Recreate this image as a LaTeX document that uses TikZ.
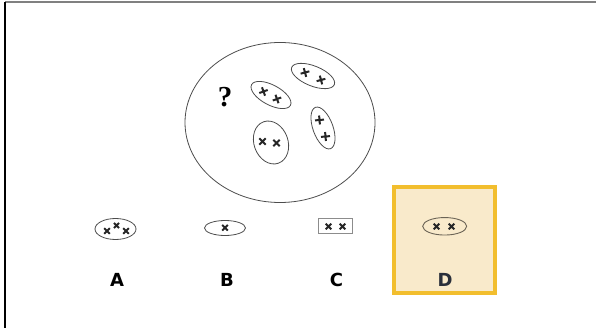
\documentclass[tikz,border=0pt]{standalone}
\usepackage{fontspec}
\newfontfamily\labfont{DejaVu Sans}
\newfontfamily\qfont{Liberation Serif}
\usetikzlibrary{shapes.geometric}
\definecolor{goldline}{HTML}{F2BE2E}
\definecolor{goldfill}{HTML}{F9EACB}
\definecolor{dlabel}{HTML}{2A2F3A}
\definecolor{dring}{HTML}{6B6355}
\tikzset{
  ring/.style={draw=black!70, line width=0.8pt, ellipse, inner sep=0pt},
  bigmark/.style={line width=2pt, black!85},
  smallmark/.style={line width=1.9pt, black!85},
  optlabel/.style={font=\labfont\bfseries\fontsize{18}{18}\selectfont, inner sep=0pt},
}
\newcommand\crossmk[5]{%
  \begin{scope}[shift={(#1,#2)},rotate=#3]
    \draw[#5] (-#4,0) -- (#4,0) (0,-#4) -- (0,#4);
  \end{scope}}
\begin{document}
\begin{tikzpicture}[x=1pt,y=-1pt]
\useasboundingbox (0,0) rectangle (596,328);
% frame
\coordinate (tl) at (5,2);
\coordinate (tr) at (596,2);
\coordinate (bl) at (5,328);
\draw[gray, line width=1.6pt] (tl) -- (tr);
\draw[black, line width=1.2pt] (tl) -- (bl);

% big set
\node[ring, minimum width=190pt, minimum height=160pt] (big) at (280,122.5) {};
\node[font=\qfont\bfseries\fontsize{29}{29}\selectfont, inner sep=0pt] (q) at (225,97) {?};
\node[ring, minimum width=44pt, minimum height=20pt, rotate=-28] (e1) at (271,95) {};
\node[ring, minimum width=46pt, minimum height=20pt, rotate=-22] (e2) at (313,76) {};
\node[ring, minimum width=44pt, minimum height=20pt, rotate=-70] (e3) at (323,128) {};
\node[ring, minimum width=44pt, minimum height=34pt, rotate=-70] (e4) at (271,142.5) {};
\crossmk{263.5}{91.5}{20}{4.5}{bigmark}
\crossmk{277}{99}{20}{4.5}{bigmark}
\crossmk{305}{72.5}{15}{4.5}{bigmark}
\crossmk{321}{80}{15}{4.5}{bigmark}
\crossmk{319.5}{120}{5}{4.5}{bigmark}
\crossmk{325.5}{136.5}{5}{4.5}{bigmark}
\crossmk{262.5}{141.5}{45}{4.5}{bigmark}
\crossmk{276.5}{143}{45}{4.5}{bigmark}

% option D box
\node[draw=goldline, fill=goldfill, line width=4pt, minimum width=101pt, minimum height=106pt, inner sep=0pt] (dbox) at (444.2,240) {};

% option A
\node[ring, minimum width=41pt, minimum height=21pt] (ea) at (115.5,229) {};
\crossmk{107}{231}{45}{4}{smallmark}
\crossmk{116.5}{225.5}{45}{3.6}{smallmark}
\crossmk{126}{231}{45}{4}{smallmark}
% option B
\node[ring, minimum width=41pt, minimum height=15pt] (eb) at (225,228) {};
\crossmk{225}{227.7}{45}{4}{smallmark}
% option C
\node[draw=black!45, line width=1.1pt, minimum width=34pt, minimum height=15pt, inner sep=0pt] (rc) at (335.5,226) {};
\crossmk{328.5}{226.5}{45}{4}{smallmark}
\crossmk{342.5}{226.5}{45}{4}{smallmark}
% option D
\node[draw=dring, line width=0.9pt, ellipse, inner sep=0pt, minimum width=44pt, minimum height=17.5pt] (ed) at (444.7,226.3) {};
\crossmk{436.5}{226.5}{45}{4}{smallmark}
\crossmk{451.5}{226.5}{45}{4}{smallmark}

% labels
\node[optlabel] (la) at (117,280) {A};
\node[optlabel] (lb) at (227,280) {B};
\node[optlabel] (lc) at (336.5,280) {C};
\node[optlabel, text=dlabel] (ld) at (445,280) {D};
\end{tikzpicture}
\end{document}
